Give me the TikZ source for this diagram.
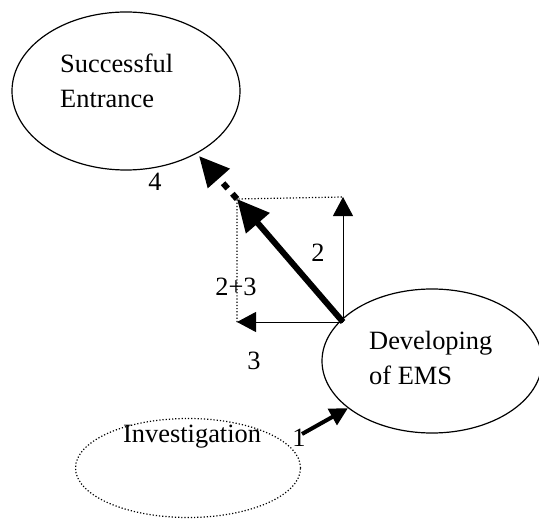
\documentclass[tikz,border=0pt]{standalone}
\usepackage{fontspec}
\setmainfont{Liberation Serif}
\usetikzlibrary{arrows.meta}
\usetikzlibrary{shapes.geometric}

\begin{document}
\begin{tikzpicture}[x=1bp,y=-1bp,font=\fontsize{26.5}{35}\selectfont,
    stagestyle/.style={ellipse,draw,line width=1.2bp,inner sep=0pt},
    thinvec/.style={line width=1bp,-{Triangle[length=19bp,width=20bp]}},
    fatvec/.style={line width=6bp,-{Triangle[length=32bp,width=30bp]}}]
    \useasboundingbox (0,0) rectangle (539,527);
    \begin{scope}
	% stages
	\node [stagestyle,minimum width=228bp,minimum height=158bp] (entrance) at (126,91) {};
	\node [stagestyle,minimum width=220bp,minimum height=144bp] (ems) at (432,361) {};
	\node [stagestyle,dotted,minimum width=225bp,minimum height=99bp] (invest) at (188,468) {};
	\node [anchor=west,align=left,inner sep=0pt] at (60,81) {Successful\\Entrance};
	\node [anchor=west,align=left,inner sep=0pt] at (369,358) {Developing\\of EMS};
	\node [anchor=west,inner sep=0pt] at (123,437) {Investigation};
	% vectors
	\coordinate (o) at (343,322);
	\coordinate (up) at (343,197);
	\coordinate (left) at (237,322);
	\coordinate (sum) at (237,199);
	\coordinate (tip) at (199,156);
	\draw [dotted,line width=1.2bp] (left) -- (sum) -- (up);
	\draw [thinvec] (o) -- (up);
	\draw [thinvec] (o) -- (left);
	\draw [fatvec] (o) -- (sum);
	\draw [line width=6bp,dash pattern=on 7bp off 7bp,-{Triangle[length=30bp,width=28bp]}] (sum) -- (tip);
	\draw [line width=4bp,-{Triangle[length=18bp,width=18bp]}] (302,434) -- (ems);
	% labels
	\node at (155,182) {4};
	\node at (318,253) {2};
	\node at (236,287) {2+3};
	\node at (254,361) {3};
	\node at (299,438) {1};
    \end{scope}
\end{tikzpicture}
\end{document}
